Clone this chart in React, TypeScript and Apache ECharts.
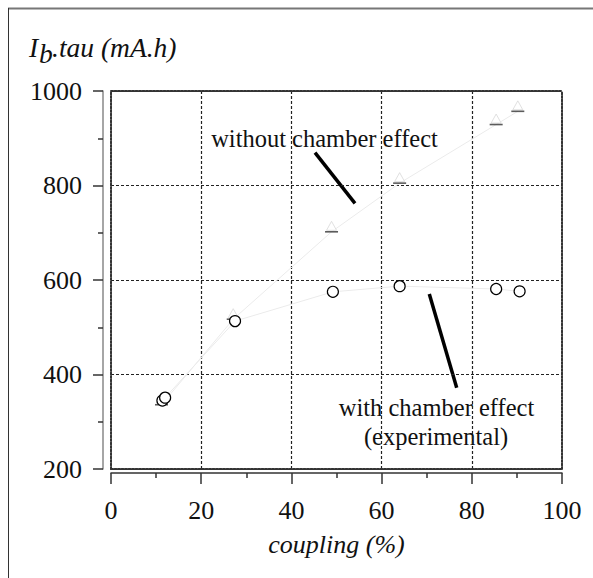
import React, { useEffect, useRef } from "react";
import * as echarts from "echarts";

// with chamber effect (experimental) — circles
const withCoupling = [11.4, 12, 27.5, 49.2, 64, 85.4, 90.6];
const withValue = [345, 351, 513, 575, 587, 581, 576];
// without chamber effect — triangles / dashes
const withoutCoupling = [11.2, 27.1, 48.9, 64, 85.4, 90.2];
const withoutValue = [336, 517, 702, 805, 929, 957];

const xTicks = [0, 20, 40, 60, 80, 100];
const yTicks = [200, 400, 600, 800, 1000];

const FONT = "'Liberation Serif', 'Times New Roman', serif";

export default function App() {
  const ref = useRef<HTMLDivElement>(null);
  useEffect(() => {
    if (!ref.current) return;
    const chart = echarts.init(ref.current, null, { renderer: "svg" });
    const withData = withCoupling.map((x, i) => [x, withValue[i]]);
    const withoutData = withoutCoupling.map((x, i) => [x, withoutValue[i]]);
    const xMin = xTicks[0];
    const xMax = xTicks[xTicks.length - 1];
    const yMin = yTicks[0];
    const yMax = yTicks[yTicks.length - 1];
    const borderLine = { show: true, onZero: false, lineStyle: { color: "#333", width: 2, type: [2, 1.5] } };
    const frameAxis = {
      type: "value",
      axisLine: borderLine,
      axisTick: { show: false },
      axisLabel: { show: false },
      splitLine: { show: false },
    };
    chart.setOption({
      animation: false,
      backgroundColor: "#fff",
      textStyle: { fontFamily: FONT },
      grid: { left: 111, top: 91, width: 451, height: 378, show: false },
      xAxis: [
        {
          type: "value",
          min: xMin,
          max: xMax,
          interval: 20,
          offset: 4,
          name: "coupling (%)",
          nameLocation: "middle",
          nameGap: 58,
          nameTextStyle: { fontFamily: FONT, fontStyle: "italic", fontSize: 26, color: "#111" },
          axisLine: { show: true, onZero: false, lineStyle: { color: "#333", width: 1.5 } },
          axisTick: { show: true, length: 11, lineStyle: { color: "#333", width: 1.5 } },
          minorTick: { show: true, splitNumber: 2, length: 5, lineStyle: { color: "#333", width: 1.5 } },
          axisLabel: { margin: 24, fontFamily: FONT, fontSize: 26, color: "#111" },
          splitLine: {
            show: true,
            showMinLine: false,
            showMaxLine: false,
            lineStyle: { color: "#222", width: 1.2, type: [3, 2] },
          },
        },
        { ...frameAxis, min: xMin, max: xMax, position: "bottom", offset: 0 },
        { ...frameAxis, min: xMin, max: xMax, position: "top", offset: 0 },
      ],
      yAxis: [
        {
          type: "value",
          min: yMin,
          max: yMax,
          interval: 200,
          offset: 8,
          axisLine: { show: true, onZero: false, lineStyle: { color: "#888", width: 1.5 } },
          axisTick: { show: true, length: 10, lineStyle: { color: "#333", width: 1.5 } },
          minorTick: { show: true, splitNumber: 2, length: 5, lineStyle: { color: "#333", width: 1.5 } },
          axisLabel: { margin: 21, fontFamily: FONT, fontSize: 26, color: "#111", formatter: (v: number) => String(v) },
          splitLine: {
            show: true,
            showMinLine: false,
            showMaxLine: false,
            lineStyle: { color: "#222", width: 1.2, type: [3, 2] },
          },
        },
        { ...frameAxis, min: yMin, max: yMax, position: "left", offset: 0 },
        { ...frameAxis, min: yMin, max: yMax, position: "right", offset: 0 },
      ],
      series: [
        {
          name: "without chamber effect",
          type: "line",
          data: withoutData,
          symbol: "triangle",
          symbolSize: [10, 9],
          symbolOffset: [0, -6],
          itemStyle: { color: "#fff", borderColor: "#d8d8d8", borderWidth: 0.8 },
          lineStyle: { color: "#ebebeb", width: 1 },
          z: 2,
        },
        {
          name: "without chamber effect dash",
          type: "scatter",
          data: withoutData,
          symbol: "rect",
          symbolSize: [13, 1.6],
          itemStyle: { color: "#333" },
          z: 3,
        },
        {
          name: "with chamber effect",
          type: "line",
          data: withData,
          symbol: "circle",
          symbolSize: 11,
          showAllSymbol: true,
          itemStyle: { color: "#fff", borderColor: "#000", borderWidth: 1.2 },
          lineStyle: { color: "#ebebeb", width: 1 },
          z: 4,
        },
      ],
      graphic: [
        { type: "line", shape: { x1: 8, y1: 8.5, x2: 593, y2: 8.5 }, style: { stroke: "#777", lineWidth: 2 } },
        { type: "line", shape: { x1: 8.5, y1: 8, x2: 8.5, y2: 578 }, style: { stroke: "#333", lineWidth: 1 } },
        {
          type: "text", left: 29, top: 34,
          style: { text: "I", font: `italic 27.5px ${FONT}`, fill: "#111" },
        },
        {
          type: "text", left: 39, top: 40,
          style: { text: "b", font: `italic 27.5px ${FONT}`, fill: "#111" },
        },
        {
          type: "text", left: 52, top: 34,
          style: { text: ".tau (mA.h)", font: `italic 27.5px ${FONT}`, fill: "#111" },
        },
        {
          type: "text", x: 324.5, y: 138,
          style: { text: "without chamber effect", font: `24.5px ${FONT}`, fill: "#111", align: "center", verticalAlign: "middle" },
        },
        {
          type: "text", x: 436.5, y: 407,
          style: { text: "with chamber effect", font: `24.5px ${FONT}`, fill: "#111", align: "center", verticalAlign: "middle" },
        },
        {
          type: "text", x: 436, y: 436,
          style: { text: "(experimental)", font: `24.5px ${FONT}`, fill: "#111", align: "center", verticalAlign: "middle" },
        },
        { type: "line", shape: { x1: 315, y1: 152.7, x2: 355, y2: 203.3 }, style: { stroke: "#000", lineWidth: 3.5 } },
        { type: "line", shape: { x1: 429.3, y1: 294, x2: 456.7, y2: 387.7 }, style: { stroke: "#000", lineWidth: 3.5 } },
      ],
    });
    return () => chart.dispose();
  }, []);
  return (
    <div
      ref={ref}
      style={{ position: "absolute", left: 0, top: 0, width: 593, height: 578 }}
    />
  );
}
